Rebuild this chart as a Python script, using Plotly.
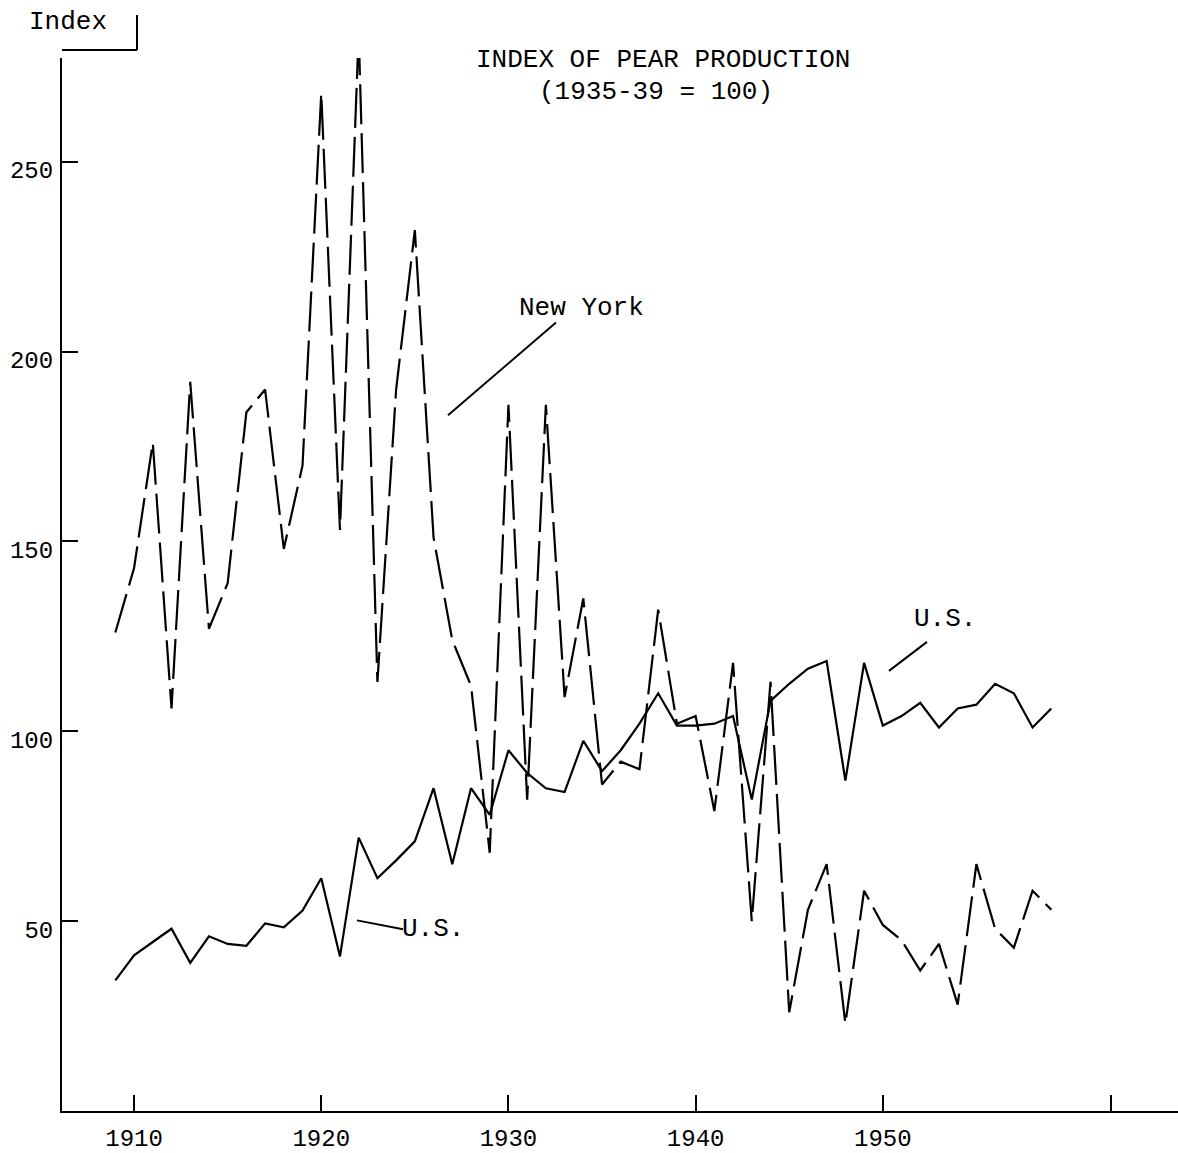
import plotly.graph_objects as go

years = list(range(1909, 1960))
new_york = [126, 143, 176, 106, 192, 127, 139, 184, 190, 148, 170, 268, 153, 284, 113, 190,
            232, 151, 124, 112, 68, 186, 82, 186, 109, 135, 86, 92, 90, 132, 102, 104, 79,
            118, 50, 113, 26, 53, 65, 23, 58, 49, 45, 37, 44, 28, 65, 48, 43, 58, 53]
us = [34.4, 41, 44.5, 48, 39, 46, 44, 43.5, 49.4, 48.4, 52.8, 61.3, 40.7, 72, 61.3, 66,
      71, 85, 65, 85, 78, 95, 89, 85, 84, 97.5, 89.5, 95, 102, 110, 101.5, 101.5, 102,
      104, 82, 108, 112.5, 116.5, 118.5, 87, 118, 101.5, 104, 107.5, 101, 106, 107,
      112.5, 110, 101, 106]
x_tickvals = [1910, 1920, 1930, 1940, 1950, 1962.2]
x_ticktext = ["1910", "1920", "1930", "1940", "1950", ""]
y_tickvals = [50, 100, 150, 200, 250]

W, H = 1178, 1153
L, R, T, B = 62, 0, 58, 40
FONT = "Liberation Mono, Courier New, monospace"


def px(xp):
    return (xp - L) / (W - L - R)


def py(yp):
    return (H - B - yp) / (H - B - T)


fig = go.Figure()
fig.add_trace(go.Scatter(x=years, y=new_york, mode="lines", name="New York",
                         line=dict(color="black", width=2.2, dash="40px,9px")))
fig.add_trace(go.Scatter(x=years, y=us, mode="lines", name="U.S.",
                         line=dict(color="black", width=2.2)))

annotations = [
    dict(text="INDEX OF PEAR PRODUCTION", x=px(663), y=py(60)),
    dict(text="(1935-39 = 100)", x=px(656), y=py(92)),
    dict(text="New York", x=px(581), y=py(308)),
    dict(text="U.S.", x=px(945), y=py(620)),
    dict(text="U.S.", x=px(433), y=py(931)),
    dict(text="Index", x=px(68), y=py(22)),
]
for a in annotations:
    a.update(xref="paper", yref="paper", showarrow=False, xanchor="center", yanchor="middle",
             font=dict(family=FONT, size=26, color="black"))

segments = [
    ((448, 416), (556, 323)),
    ((889, 672), (927, 643)),
    ((357, 922), (403, 931)),
    ((62, 50), (137, 50)),
    ((137, 15), (137, 50)),
]
shapes = [dict(type="line", xref="paper", yref="paper", x0=px(a[0]), y0=py(a[1]),
               x1=px(b[0]), y1=py(b[1]), line=dict(color="black", width=2))
          for a, b in segments]

fig.update_layout(
    width=W, height=H,
    margin=dict(l=L, r=R, t=T, b=B),
    paper_bgcolor="white", plot_bgcolor="white",
    showlegend=False,
    annotations=annotations,
    shapes=shapes,
    font=dict(family=FONT, size=24, color="black"),
)
fig.update_xaxes(range=[1906.15, 1965.77], tickvals=x_tickvals, ticktext=x_ticktext,
                 ticks="inside", ticklen=16, tickwidth=2, tickcolor="black",
                 showline=True, linecolor="black", linewidth=2, showgrid=False, zeroline=False,
                 ticklabelstandoff=4, tickfont=dict(family=FONT, size=24, color="black"))
fig.update_yaxes(range=[0, 277.3], tickvals=y_tickvals,
                 ticks="inside", ticklen=16, tickwidth=2, tickcolor="black",
                 showline=True, linecolor="black", linewidth=2, showgrid=False, zeroline=False,
                 ticklabelstandoff=2, ticklabelshift=8,
                 tickfont=dict(family=FONT, size=24, color="black"))

fig.write_html("out.html", config={"displayModeBar": False},
               post_script="document.body.style.margin='0px';document.body.style.overflow='hidden';")
